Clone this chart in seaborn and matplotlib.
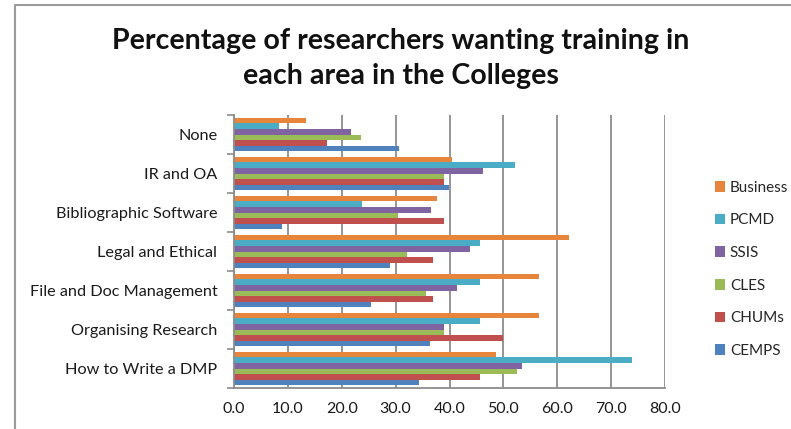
import matplotlib
matplotlib.use('Agg')
import matplotlib.pyplot as plt
import seaborn as sns
import pandas as pd
from matplotlib.lines import Line2D

# Data
areas = ['None', 'IR and OA', 'Bibliographic Software', 'Legal and Ethical',
         'File and Doc Management', 'Organising Research', 'How to Write a DMP']
colleges = ['Business', 'PCMD', 'SSIS', 'CLES', 'CHUMs', 'CEMPS']

business = [13.3, 40.4, 37.7, 62.1, 56.7, 56.7, 48.6]
pcmd = [8.4, 52.2, 23.8, 45.6, 45.6, 45.6, 73.8]
ssis = [21.8, 46.3, 36.5, 43.8, 41.4, 38.9, 53.5]
cles = [23.6, 38.9, 30.4, 32.2, 35.6, 38.9, 52.5]
chums = [17.2, 38.9, 39.0, 36.9, 36.9, 50.0, 45.6]
cemps = [30.7, 39.9, 9.0, 29.0, 25.4, 36.3, 34.4]

x_ticks = [0, 10, 20, 30, 40, 50, 60, 70, 80]

colors = ['#E8853D', '#4BACC6', '#8064A2', '#9BBB59', '#C0504D', '#4F81BD']

# long format for seaborn
rows = []
for college, vals in zip(colleges, [business, pcmd, ssis, cles, chums, cemps]):
    for area, v in zip(areas, vals):
        rows.append({'Area': area, 'College': college, 'Pct': v})
df = pd.DataFrame(rows)

sns.set_theme(style='white')
plt.rcParams['font.family'] = ['Lato', 'DejaVu Sans']

fig = plt.figure(figsize=(7.91, 4.29), dpi=100)
ax = fig.add_axes([234 / 791, 1 - 388 / 429, 431 / 791, 273 / 429])

sns.barplot(data=df, x='Pct', y='Area', hue='College', order=areas,
            hue_order=colleges, palette=colors, width=0.85, ax=ax,
            saturation=1, errorbar=None, linewidth=0)

ax.set_xlim(0, 80)
ax.set_xticks(x_ticks)
ax.set_xticklabels(['%.1f' % t for t in x_ticks], fontsize=11.5, color='#1a1a1a')
ax.tick_params(axis='y', labelsize=11.7, labelcolor='#1a1a1a', length=0, pad=12)
ax.tick_params(axis='x', length=0, pad=10)
ax.set_xlabel('')
ax.set_ylabel('')

# vertical gridlines behind the bars
ax.set_axisbelow(True)
ax.xaxis.grid(True, color='#8c8c8c', linewidth=1.3)
ax.yaxis.grid(False)

# axis lines
for side in ['top', 'right']:
    ax.spines[side].set_visible(False)
for side in ['left', 'bottom']:
    ax.spines[side].set_color('#8c8c8c')
    ax.spines[side].set_linewidth(1.3)

# small ticks between groups on the category axis
ax.set_yticks([i + 0.5 for i in range(-1, len(areas))], minor=True)
ax.tick_params(axis='y', which='minor', length=5, color='#8c8c8c', width=1.2,
               direction='out', left=True)

# legend with square markers
handles, labels = ax.get_legend_handles_labels()
ax.legend(handles, labels, loc='upper left', bbox_to_anchor=(707 / 791, 1 - 173 / 429),
          bbox_transform=fig.transFigure, frameon=False, fontsize=11,
          handlelength=0.7, handleheight=0.7, handletextpad=0.3,
          labelspacing=1.22, borderpad=0)

fig.text(401 / 791, 1 - 41 / 429, 'Percentage of researchers wanting training in',
         ha='center', va='center', fontsize=20.6, fontweight='bold', color='#111111')
fig.text(401 / 791, 1 - 76 / 429, 'each area in the Colleges',
         ha='center', va='center', fontsize=20.6, fontweight='bold', color='#111111')

# outer chart border (only top and left edges are visible)
fig.lines.append(Line2D([15 / 791, 15 / 791, 1], [0, 1 - 5 / 429, 1 - 5 / 429],
                        transform=fig.transFigure, color='#9a9a9a', linewidth=1.5))

fig.savefig('out.png', dpi=100)
